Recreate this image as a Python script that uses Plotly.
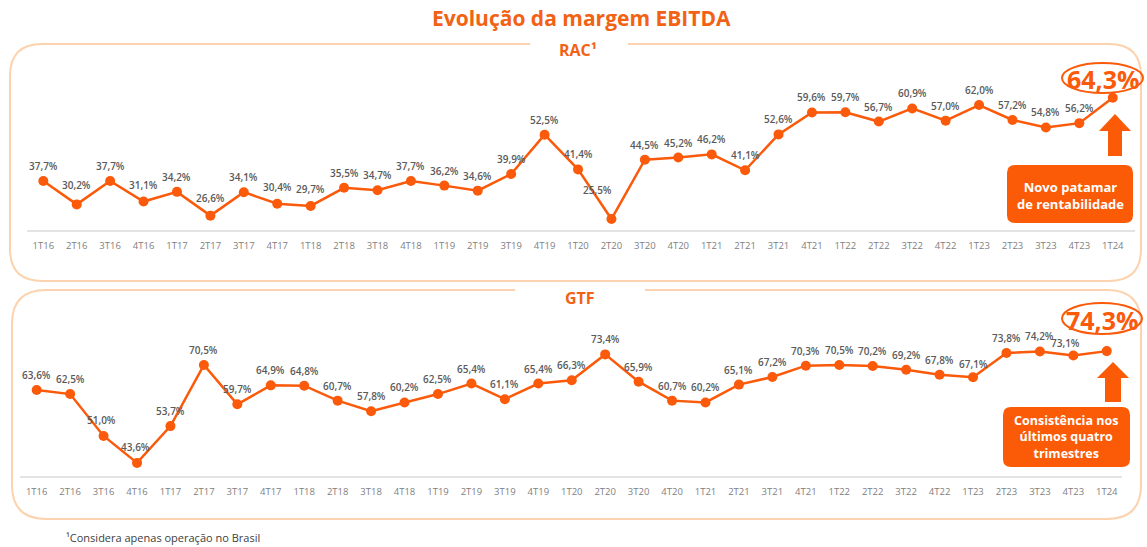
import plotly.graph_objects as go

quarters = ["1T16", "2T16", "3T16", "4T16", "1T17", "2T17", "3T17", "4T17",
            "1T18", "2T18", "3T18", "4T18", "1T19", "2T19", "3T19", "4T19",
            "1T20", "2T20", "3T20", "4T20", "1T21", "2T21", "3T21", "4T21",
            "1T22", "2T22", "3T22", "4T22", "1T23", "2T23", "3T23", "4T23", "1T24"]

rac = [37.7, 30.2, 37.7, 31.1, 34.2, 26.6, 34.1, 30.4, 29.7, 35.5, 34.7, 37.7,
       36.2, 34.6, 39.9, 52.5, 41.4, 25.5, 44.5, 45.2, 46.2, 41.1, 52.6, 59.6,
       59.7, 56.7, 60.9, 57.0, 62.0, 57.2, 54.8, 56.2, 64.3]

gtf = [63.6, 62.5, 51.0, 43.6, 53.7, 70.5, 59.7, 64.9, 64.8, 60.7, 57.8, 60.2,
       62.5, 65.4, 61.1, 65.4, 66.3, 73.4, 65.9, 60.7, 60.2, 65.1, 67.2, 70.3,
       70.5, 70.2, 69.2, 67.8, 67.1, 73.8, 74.2, 73.1, 74.3]

title = "Evolução da margem EBITDA"
rac_title = "RAC¹"
gtf_title = "GTF"
rac_callout = "Novo patamar<br>de rentabilidade"
gtf_callout = "Consistência nos<br>últimos quatro<br>trimestres"
footnote = "¹Considera apenas operação no Brasil"

W, H = 1147, 547
ORANGE = "#fa5a0a"
BOX = "#fb5b06"
BORDER = "#fcd3ae"
LABEL = "#5a5a5a"
TICK = "#808080"
FONT = "Open Sans"


def px(x):
    return x / W


def py(y):
    return 1 - y / H


def fmt(v):
    return f"{v:.1f}".replace(".", ",") + "%"


fig = go.Figure()

fig.add_trace(go.Scatter(
    x=quarters, y=rac, xaxis="x", yaxis="y", mode="lines+markers",
    line=dict(color=ORANGE, width=2.5), marker=dict(color=ORANGE, size=10),
    cliponaxis=False, hoverinfo="x+y", showlegend=False))

fig.add_trace(go.Scatter(
    x=quarters, y=gtf, xaxis="x2", yaxis="y2", mode="lines+markers",
    line=dict(color=ORANGE, width=2.5), marker=dict(color=ORANGE, size=10),
    cliponaxis=False, hoverinfo="x+y", showlegend=False))


def xaxis_cfg(left, right, first, step, anchor):
    r0 = (left - first) / step
    r1 = (right - first) / step
    return dict(domain=[px(left), px(right)], range=[r0, r1], type="category",
                showgrid=False, zeroline=False, showline=True,
                linecolor="#e3e3e3", linewidth=1.5, ticks="",
                tickfont=dict(family=FONT, size=9.5, color=TICK),
                ticklabelstandoff=6, anchor=anchor, fixedrange=True)


fig.update_layout(
    width=W, height=H, margin=dict(l=0, r=0, t=0, b=0),
    paper_bgcolor="white", plot_bgcolor="white",
    xaxis=xaxis_cfg(27, 1135, 43.3, 33.42, "y"),
    yaxis=dict(domain=[py(230), py(80)], range=[22, 70], visible=False,
               fixedrange=True),
    xaxis2=xaxis_cfg(20, 1122, 36.7, 33.44, "y2"),
    yaxis2=dict(domain=[py(476), py(326)], range=[40, 81.2], visible=False,
                fixedrange=True),
)


def P(x, y):
    return f"{px(x):.5f},{py(y):.5f}"


def panel(left, top, right, bottom, gap_l, gap_r, r):
    return (f"M {P(gap_r, top)} L {P(right - r, top)} Q {P(right, top)} {P(right, top + r)} "
            f"L {P(right, bottom - r)} Q {P(right, bottom)} {P(right - r, bottom)} "
            f"L {P(left + r, bottom)} Q {P(left, bottom)} {P(left, bottom - r)} "
            f"L {P(left, top + r)} Q {P(left, top)} {P(left + r, top)} L {P(gap_l, top)}")


def rrect(left, top, right, bottom, r):
    return (f"M {P(left + r, top)} L {P(right - r, top)} Q {P(right, top)} {P(right, top + r)} "
            f"L {P(right, bottom - r)} Q {P(right, bottom)} {P(right - r, bottom)} "
            f"L {P(left + r, bottom)} Q {P(left, bottom)} {P(left, bottom - r)} "
            f"L {P(left, top + r)} Q {P(left, top)} {P(left + r, top)} Z")


def arrow(cx, tip, head_bot, shaft_bot, head_w, shaft_w):
    return (f"M {P(cx, tip)} L {P(cx + head_w / 2, head_bot)} L {P(cx + shaft_w / 2, head_bot)} "
            f"L {P(cx + shaft_w / 2, shaft_bot)} L {P(cx - shaft_w / 2, shaft_bot)} "
            f"L {P(cx - shaft_w / 2, head_bot)} L {P(cx - head_w / 2, head_bot)} Z")


shapes = [
    dict(type="path", path=panel(10, 44, 1141, 281, 530, 628, 32),
         line=dict(color=BORDER, width=2), layer="below"),
    dict(type="path", path=panel(12, 290, 1141, 519, 515, 645, 34),
         line=dict(color=BORDER, width=2), layer="below"),
    dict(type="path", path=rrect(1007, 165, 1133, 223, 8),
         fillcolor=BOX, line=dict(width=0)),
    dict(type="path", path=rrect(1003, 407, 1130, 467, 8),
         fillcolor=BOX, line=dict(width=0)),
    dict(type="path", path=arrow(1115, 114, 131, 156, 32, 14),
         fillcolor=BOX, line=dict(width=0)),
    dict(type="path", path=arrow(1113, 362, 378, 402, 32, 16),
         fillcolor=BOX, line=dict(width=0)),
    dict(type="circle", x0=px(1062), x1=px(1143), y0=py(93), y1=py(63),
         line=dict(color=ORANGE, width=2)),
    dict(type="circle", x0=px(1062), x1=px(1142), y0=py(334), y1=py(303),
         line=dict(color=ORANGE, width=2)),
]
for s in shapes:
    s["xref"] = "paper"
    s["yref"] = "paper"
fig.update_layout(shapes=shapes)


def ann(x, y, text, size, color, bold=True, xanchor="center"):
    t = f"<b>{text}</b>" if bold else text
    return dict(x=px(x), y=py(y), xref="paper", yref="paper", text=t,
                showarrow=False, xanchor=xanchor, yanchor="middle",
                font=dict(family=FONT, size=size, color=color))


annotations = [
    ann(581, 18, title, 21, "#f26215"),
    ann(578, 50, rac_title, 16, "#f26215"),
    ann(580, 298, gtf_title, 16, "#f26215"),
    ann(1070, 195, rac_callout, 13, "white"),
    ann(1066, 437, gtf_callout, 12.5, "white"),
    ann(1103, 79, fmt(rac[-1]), 25, ORANGE),
    ann(1102, 320, fmt(gtf[-1]), 25, ORANGE),
    ann(64, 537, footnote, 11, "#404040", bold=False, xanchor="left"),
]

# data labels (last point is highlighted separately)
rac_shift = {17: (-14, 29), 1: (0, 19), 3: (0, 17), 5: (0, 18), 7: (0, 17), 8: (0, 17)}
gtf_shift = {31: (-8, 12), 28: (0, 13), 2: (-2, 16), 3: (-2, 16)}


def data_labels(vals, xref, yref, shifts):
    out = []
    for i, (q, v) in enumerate(zip(quarters, vals)):
        if i == len(vals) - 1:
            continue
        dx, dy = shifts.get(i, (0, 15))
        out.append(dict(x=q, y=v, xref=xref, yref=yref, text=fmt(v),
                        showarrow=False, xanchor="center", yanchor="middle",
                        xshift=dx, yshift=dy,
                        font=dict(family=FONT, size=10, color=LABEL, weight=600)))
    return out


annotations += data_labels(rac, "x", "y", rac_shift)
annotations += data_labels(gtf, "x2", "y2", gtf_shift)
fig.update_layout(annotations=annotations)

fig.write_html(
    "out.html",
    config={"displayModeBar": False},
    post_script="document.body.style.margin='0';document.body.style.overflow='hidden';",
)
